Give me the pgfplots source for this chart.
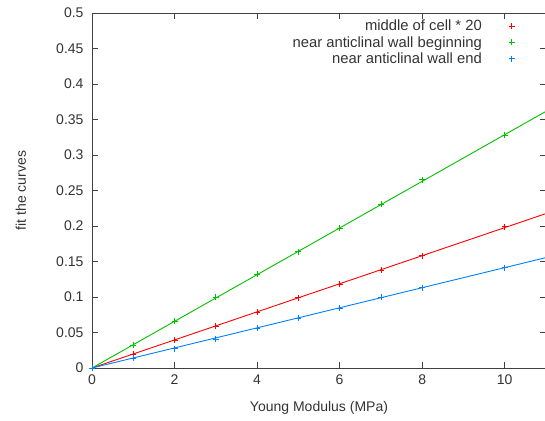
\documentclass[border=0pt]{standalone}
\usepackage{fontspec}
\setmainfont{Liberation Sans}
\usepackage{pgfplots}
\pgfplotsset{compat=1.18}
\definecolor{gred}{RGB}{255,0,0}
\definecolor{ggreen}{RGB}{0,192,0}
\definecolor{gblue}{RGB}{0,128,255}
\definecolor{axgray}{RGB}{64,64,64}
\begin{document}
\begin{tikzpicture}
\begin{axis}[name=ax, scale only axis, width=454bp, height=355bp,
  xmin=0, xmax=11, ymin=0, ymax=0.5,
  xtick={0,2,4,6,8,10},
  ytick={0,0.05,0.1,0.15,0.2,0.25,0.3,0.35,0.4,0.45,0.5},
  yticklabels={0,0.05,0.1,0.15,0.2,0.25,0.3,0.35,0.4,0.45,0.5},
  tick align=inside, major tick length=6bp,
  axis line style={axgray, line width=0.8bp},
  tick style={axgray, line width=0.8bp},
  /pgf/number format/assume math mode=true,
  font=\fontsize{14bp}{17bp}\selectfont,
  tick label style={text=black!80},
  xticklabel style={yshift=-3bp},
  yticklabel style={xshift=-5bp},
  xlabel={Young Modulus (MPa)}, ylabel={fit the curves},
  xlabel style={at={(axis description cs:0.5,-0.1127)}, anchor=center, text=black!80},
  ylabel style={at={(axis description cs:-0.1564,0.5)}, anchor=center, rotate=0, text=black!80},
  legend style={draw=none, fill=none, at={(axis description cs:1,1)}, anchor=north east,
    xshift=-28bp, yshift=-3bp, row sep=0bp, font=\fontsize{14.8bp}{17bp}\selectfont, text=black!80},
  legend cell align=right,
  legend plot pos=right,
]
\addplot[only marks, mark=+, mark size=3bp, gred, line width=0.75bp] coordinates {
 (0,0) (1,0.0195) (2,0.0390) (3,0.0585) (4,0.0785) (5,0.099) (6,0.118) (7,0.138) (8,0.158) (10,0.199)};
\addlegendentry{middle of cell * 20\hspace*{25bp}}
\addplot[only marks, mark=+, mark size=3bp, ggreen, line width=0.75bp] coordinates {
 (0,0) (1,0.0325) (2,0.0655) (3,0.100) (4,0.132) (5,0.164) (6,0.197) (7,0.231) (8,0.265) (10,0.328)};
\addlegendentry{near anticlinal wall beginning\hspace*{25bp}}
\addplot[only marks, mark=+, mark size=3bp, gblue, line width=0.75bp] coordinates {
 (0,0) (1,0.0135) (2,0.027) (3,0.041) (4,0.056) (5,0.0705) (6,0.084) (7,0.0995) (8,0.113) (10,0.1415)};
\addlegendentry{near anticlinal wall end\hspace*{25bp}}
\addplot[gred, line width=0.9bp, forget plot] coordinates {(0,0) (11,0.2175)};
\addplot[ggreen, line width=0.9bp, forget plot] coordinates {(0,0) (11,0.3615)};
\addplot[gblue, line width=0.9bp, forget plot] coordinates {(0,0) (11,0.1555)};
\end{axis}
\pgfresetboundingbox
\path[use as bounding box] ([xshift=-92bp,yshift=-53bp]ax.south west) rectangle ([xshift=-1bp,yshift=13bp]ax.north east);
\end{tikzpicture}
\end{document}
